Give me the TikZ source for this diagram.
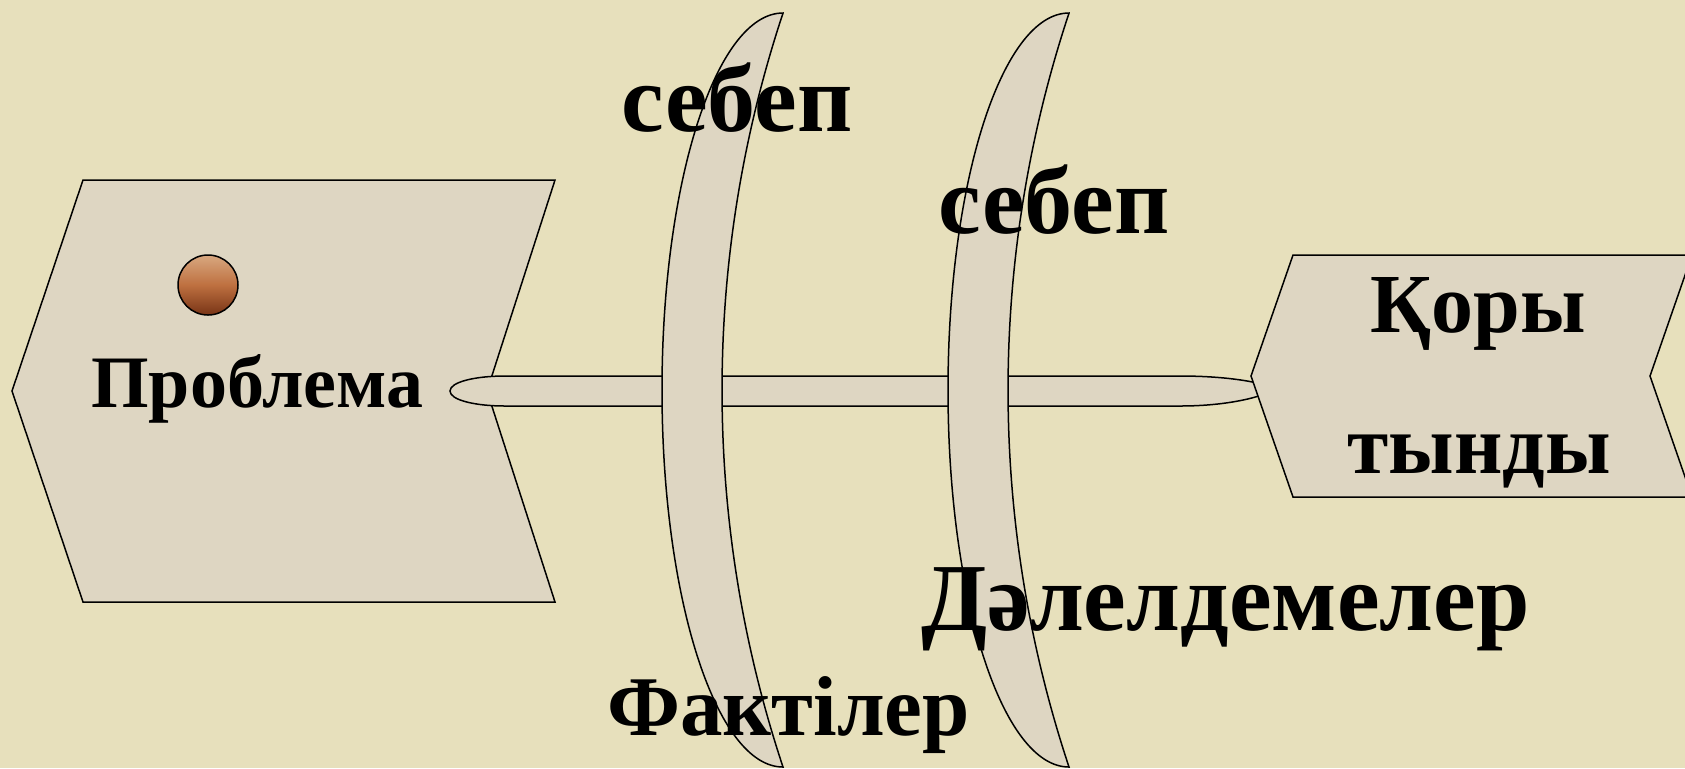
\documentclass[tikz,border=0pt]{standalone}
\usepackage{fontspec}
\setmainfont{Liberation Serif}
\definecolor{bgcol}{RGB}{231,224,188}
\definecolor{shapefill}{RGB}{222,214,194}
\definecolor{balltop}{RGB}{216,168,128}
\definecolor{ballmid}{RGB}{190,112,64}
\definecolor{ballbot}{RGB}{120,52,22}
\tikzset{
  shapebox/.style={fill=shapefill, draw=black, line width=0.75pt, line join=miter},
  lbl/.style={anchor=base west, inner sep=0pt, text=black, font=\bfseries},
}
\begin{document}
\begin{tikzpicture}[x=0.5pt, y=-0.5pt]
\useasboundingbox (0,0) rectangle (1685,768);
\fill[bgcol] (0,0) rectangle (1685,768);
% left chevron
\draw[shapebox] (12,391) -- (83,180) -- (555,180) -- (487,391) -- (555,602) -- (83,602) -- cycle;
% ball
\shade[top color=balltop, bottom color=ballbot, middle color=ballmid, draw=black, line width=0.75pt] (208,285) circle[radius=30];
% tube
\draw[shapebox] (450,391) .. controls (450,382) and (475,376) .. (505,376) -- (1180,376)
  .. controls (1230,376) and (1265,383) .. (1275,389)
  .. controls (1265,396) and (1230,406) .. (1180,406) -- (505,406)
  .. controls (475,406) and (450,400) .. (450,391) -- cycle;
% crescents
\foreach \dx in {0,286}{
  \draw[shapebox] (783+\dx,13) arc[start angle=270, end angle=90, x radius=121, y radius=377]
    arc[start angle=161.62, end angle=198.38, radius=1195.5] -- cycle;
}
% right chevron
\begin{scope}
\clip (0,0) rectangle (1685,768);
\draw[shapebox] (1251,376) -- (1293,255) -- (1692,255) -- (1650,376) -- (1692,497) -- (1293,497) -- cycle;
\end{scope}
% labels
\node[lbl, font=\bfseries\fontsize{37pt}{40pt}\selectfont] (problem) at (91,407) {Проблема};
\node[lbl, font=\bfseries\fontsize{48pt}{52pt}\selectfont] (sebep1) at (621,131) {себеп};
\node[lbl, font=\bfseries\fontsize{48pt}{52pt}\selectfont] (sebep2) at (938,233) {себеп};
\node[lbl, font=\bfseries\fontsize{48pt}{52pt}\selectfont] (dalel) at (921,630) {Дәлелдемелер};
\node[lbl, font=\bfseries\fontsize{42.5pt}{46pt}\selectfont] (fakt) at (607,735) {Фактілер};
\node[anchor=base, inner sep=0pt, font=\bfseries\fontsize{42pt}{46pt}\selectfont] (kory) at (1478,332) {Қоры};
\node[anchor=base, inner sep=0pt, font=\bfseries\fontsize{42pt}{46pt}\selectfont] (tyndy) at (1479,473) {тынды};
\end{tikzpicture}
\end{document}
